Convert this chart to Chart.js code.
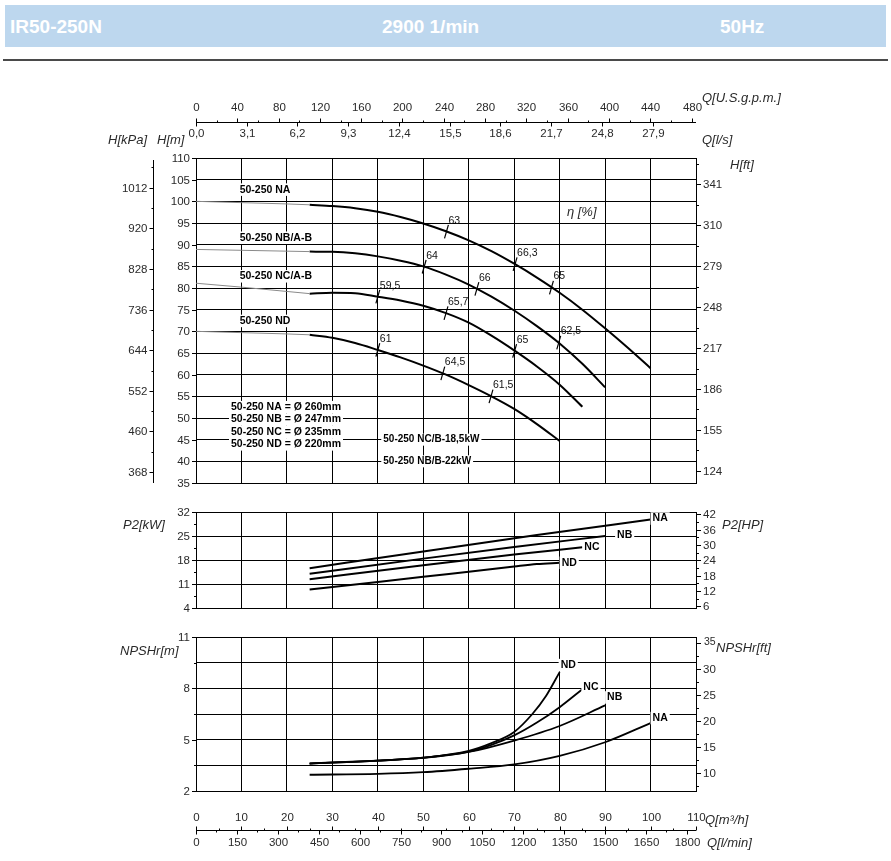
<!DOCTYPE html>
<html><head><meta charset="utf-8">
<script src="https://cdn.jsdelivr.net/npm/chart.js@4.4.1/dist/chart.umd.min.js"></script>
<style>
html,body{margin:0;padding:0;background:#fff;width:891px;height:861px;overflow:hidden;}
#hdr{position:absolute;left:5px;top:5px;width:881px;height:42px;background:#bdd7ee;}
#hdr span{position:absolute;top:0;color:#fff;font:bold 19px/43px "Liberation Sans",Arial,sans-serif;}
#rule{position:absolute;left:3px;top:59px;width:885px;height:2px;background:#4a4a4a;}
canvas{position:absolute;left:0;top:0;}
</style></head><body>
<div id="hdr"><span style="left:5px">IR50-250N</span><span style="left:377px">2900 1/min</span><span style="left:715px">50Hz</span></div>
<div id="rule"></div>
<canvas id="cH" width="891" height="861"></canvas>
<canvas id="cP" width="891" height="861"></canvas>
<canvas id="cN" width="891" height="861"></canvas>
<script>
// ---------- DATA (Q in m3/h) ----------
const qThin   = [0, 10, 20, 25];
const hThinNA = [100.0, 99.7, 99.4, 99.2];
const hThinNB = [88.9, 88.7, 88.5, 88.4];
const hThinNC = [81.1, 80.2, 79.2, 78.7];
const hThinND = [70.0, 69.7, 69.4, 69.2];

const qNA = [25, 30, 35, 40, 45, 50, 55, 60, 65, 70, 75, 80, 85, 90, 95, 100];
const hNA = [99.2, 98.9, 98.4, 97.6, 96.4, 94.9, 93.1, 91.0, 88.5, 85.6, 82.4, 78.9, 75.0, 70.7, 66.2, 61.5];
const qNB = [25, 30, 35, 40, 45, 50, 55, 60, 65, 70, 75, 80, 85, 90];
const hNB = [88.4, 88.35, 88.0, 87.3, 86.3, 85.0, 83.1, 80.8, 78.0, 74.8, 71.2, 67.2, 62.5, 57.1];
const qNC = [25, 30, 35, 40, 45, 50, 55, 60, 65, 70, 75, 80, 85];
const hNC = [78.7, 78.9, 78.8, 78.0, 77.1, 75.9, 74.2, 72.0, 69.0, 65.6, 61.9, 57.7, 52.6];
const qND = [25, 30, 35, 40, 45, 50, 55, 60, 65, 70, 75, 80];
const hND = [69.2, 68.5, 67.3, 65.7, 64.0, 62.1, 60.0, 57.6, 55.0, 52.1, 48.6, 44.7];

const effQ_NA = [55.1, 70.2, 78.2]; const effH_NA = [93.0, 85.5, 80.1]; const effL_NA = ['63', '66,3', '65'];
const effQ_NB = [50.2, 61.8, 79.8]; const effH_NB = [84.9, 79.8, 67.4]; const effL_NB = ['64', '66', '62,5'];
const effQ_NC = [40.0, 55.0, 70.1]; const effH_NC = [78.0, 74.2, 65.5]; const effL_NC = ['59,5', '65,7', '65'];
const effQ_ND = [40.0, 54.3, 64.9]; const effH_ND = [65.7, 60.3, 55.0]; const effL_ND = ['61', '64,5', '61,5'];

const p2Q_NA = [25, 50, 75, 100];          const p2NA = [15.6, 20.5, 25.3, 29.8];
const p2Q_NB = [25, 50, 70, 90];           const p2NB = [14.0, 18.4, 21.8, 25.0];
const p2Q_NC = [25, 50, 70, 85];           const p2NC = [12.4, 16.5, 19.6, 21.7];
const p2Q_ND = [25, 40, 50, 60, 70, 75, 80]; const p2ND = [9.4, 11.6, 13.1, 14.6, 16.1, 16.8, 17.2];

const npQ_NA = [25, 40, 50, 60, 70, 80, 90, 100];     const npNA = [2.95, 3.0, 3.1, 3.3, 3.55, 4.05, 4.85, 5.97];
const npQ_NB = [25, 40, 50, 60, 70, 80, 90];          const npNB = [3.62, 3.78, 3.93, 4.28, 4.95, 5.8, 7.0];
const npQ_NC = [25, 40, 50, 60, 65, 70, 75, 80, 85];  const npNC = [3.6, 3.77, 3.95, 4.3, 4.7, 5.25, 6.0, 6.9, 7.95];
const npQ_ND = [25, 40, 50, 60, 65, 70, 74, 77, 80];  const npND = [3.6, 3.77, 3.95, 4.35, 4.8, 5.45, 6.5, 7.55, 8.95];

// tick labels
const kPaLabels  = [368, 460, 552, 644, 736, 828, 920, 1012];
const ftLabels   = [124, 155, 186, 217, 248, 279, 310, 341];
const gpmLabels  = [0, 40, 80, 120, 160, 200, 240, 280, 320, 360, 400, 440, 480];
const lsLabels   = ['0,0', '3,1', '6,2', '9,3', '12,4', '15,5', '18,6', '21,7', '24,8', '27,9'];
const hpLabels   = [6, 12, 18, 24, 30, 36, 42];
const npFtLabels = [10, 15, 20, 25, 30, 35];
const m3hLabels  = [0, 10, 20, 30, 40, 50, 60, 70, 80, 90, 100, 110];
const lminLabels = [0, 150, 300, 450, 600, 750, 900, 1050, 1200, 1350, 1500, 1650, 1800];
const curveNames = ['NA', 'NB', 'NC', 'ND'];
const diamLegend = ['50-250 NA = Ø 260mm', '50-250 NB = Ø 247mm', '50-250 NC = Ø 235mm', '50-250 ND = Ø 220mm'];

// unit conversions to chart units (m, kW, m3/h)
const KPA_M = 1 / 9.81, FT_M = 0.3048, GPM_M3H = 0.22712, LS_M3H = 3.6, LMIN_M3H = 0.06, HP_KW = 0.7457;

// ---------- helpers ----------
const FONT = '"Liberation Sans", Arial, sans-serif';
const TXT = '#2a2a2a';
function put(ctx, s, x, y, o = {}) {
  const size = o.size || 11.5;
  ctx.font = (o.italic ? 'italic ' : '') + (o.bold ? 'bold ' : '') + size + 'px ' + FONT;
  ctx.textAlign = o.align || 'left';
  ctx.textBaseline = 'middle';
  if (o.bg) {
    const w = ctx.measureText(s).width;
    const x0 = o.align === 'center' ? x - w / 2 : o.align === 'right' ? x - w : x;
    ctx.fillStyle = '#fff';
    ctx.fillRect(x0 - 2, y - size / 2 - 1, w + 4, size + 2);
  }
  ctx.fillStyle = o.color || TXT;
  ctx.fillText(s, x, y);
}
function seg(ctx, x1, y1, x2, y2, w = 1, c = '#000') {
  ctx.beginPath(); ctx.lineWidth = w; ctx.strokeStyle = c;
  ctx.moveTo(x1, y1); ctx.lineTo(x2, y2); ctx.stroke();
}
const R = v => Math.round(v) + 0.5;
function pts(qs, vs) { return qs.map((q, i) => ({ x: q, y: vs[i] })); }
function thin(qs, vs) { return { data: pts(qs, vs), borderColor: '#8a8a8a', borderWidth: 1, pointRadius: 0, cubicInterpolationMode: 'monotone', fill: false }; }
function thick(qs, vs, w) { return { data: pts(qs, vs), borderColor: '#000', borderWidth: w || 2, pointRadius: 0, cubicInterpolationMode: 'monotone', fill: false }; }
function marks(qs, vs) { return { data: pts(qs, vs), showLine: false, pointStyle: 'line', pointRadius: 7, pointRotation: -74, pointBorderWidth: 1.2, pointBorderColor: '#000', pointBackgroundColor: '#000' }; }

function opts(pad, ymin, ymax, ystep) {
  const grid = { color: '#000', lineWidth: 1, drawTicks: false };
  return {
    responsive: false, animation: false, devicePixelRatio: 1,
    layout: { padding: pad },
    plugins: { legend: { display: false }, tooltip: { enabled: false } },
    events: [],
    scales: {
      x: { type: 'linear', min: 0, max: 110, ticks: { display: false, stepSize: 10 }, grid, border: { display: true, color: '#000' }, afterFit(s) { s.height = 0; } },
      y: { type: 'linear', min: ymin, max: ymax, ticks: { display: false, stepSize: ystep }, grid, border: { display: true, color: '#000' }, afterFit(s) { s.width = 0; } }
    }
  };
}

// ---------- H chart ----------
const hPlugin = {
  id: 'hAxes',
  afterDraw(chart) {
    const { ctx, chartArea: a, scales: { x, y } } = chart;
    ctx.save();
    y.ticks.forEach(t => {
      const py = R(y.getPixelForValue(t.value));
      seg(ctx, a.left - 4, py, a.left, py);
      put(ctx, String(t.value), a.left - 6, py, { align: 'right' });
    });
    const kx = 153.5;
    seg(ctx, kx, a.top + 2, kx, a.bottom);
    kPaLabels.forEach(v => {
      const py = R(y.getPixelForValue(v * KPA_M));
      seg(ctx, kx - 4, py, kx, py);
      put(ctx, String(v), kx - 6, py, { align: 'right' });
    });
    for (let v = kPaLabels[0] - 46; v < 1100; v += 92) {
      const m = v * KPA_M; if (m < y.min || m > y.max) continue;
      const py = R(y.getPixelForValue(m)); seg(ctx, kx - 2, py, kx, py);
    }
    ftLabels.forEach(v => {
      const py = R(y.getPixelForValue(v * FT_M));
      seg(ctx, a.right, py, a.right + 5, py);
      put(ctx, String(v), a.right + 7, py);
    });
    for (let v = ftLabels[0] - 15.5; v < 370; v += 31) {
      const m = v * FT_M; if (m < y.min || m > y.max) continue;
      const py = R(y.getPixelForValue(m)); seg(ctx, a.right, py, a.right + 3, py);
    }
    const ty = 122.5;
    seg(ctx, a.left, ty, a.right, ty);
    gpmLabels.forEach(v => {
      const px = R(x.getPixelForValue(v * GPM_M3H));
      seg(ctx, px, ty - 4, px, ty);
      put(ctx, String(v), px, 108, { align: 'center' });
    });
    for (let v = 20; v < 480; v += 40) { const px = R(x.getPixelForValue(v * GPM_M3H)); seg(ctx, px, ty - 2, px, ty); }
    lsLabels.forEach((s, i) => {
      const px = R(x.getPixelForValue(i * 3.1 * LS_M3H));
      seg(ctx, px, ty, px, ty + 4);
      put(ctx, s, px, 134, { align: 'center' });
    });
    put(ctx, 'Q[U.S.g.p.m.]', 702, 98, { italic: true, size: 13 });
    put(ctx, 'Q[l/s]', 702, 140, { italic: true, size: 13 });
    put(ctx, 'H[kPa]', 108, 140, { italic: true, size: 13 });
    put(ctx, 'H[m]', 157, 140, { italic: true, size: 13 });
    put(ctx, 'H[ft]', 730, 165, { italic: true, size: 13 });
    put(ctx, 'η [%]', x.getPixelForValue(81.6), y.getPixelForValue(97.4), { italic: true, size: 13 });
    const lx = x.getPixelForValue(9.6);
    put(ctx, '50-250 NA', lx, y.getPixelForValue(102.7), { bold: true, size: 10.5, bg: true, color: '#000' });
    put(ctx, '50-250 NB/A-B', lx, y.getPixelForValue(91.6), { bold: true, size: 10.5, bg: true, color: '#000' });
    put(ctx, '50-250 NC/A-B', lx, y.getPixelForValue(82.7), { bold: true, size: 10.5, bg: true, color: '#000' });
    put(ctx, '50-250 ND', lx, y.getPixelForValue(72.4), { bold: true, size: 10.5, bg: true, color: '#000' });
    const cx = x.getPixelForValue(19.8);
    diamLegend.forEach((s, i) => put(ctx, s, cx, y.getPixelForValue(52.5) + i * 12.4, { bold: true, size: 10.5, bg: true, color: '#000', align: 'center' }));
    const mx = x.getPixelForValue(41.2);
    put(ctx, '50-250 NC/B-18,5kW', mx, y.getPixelForValue(45), { bold: true, size: 10, bg: true, color: '#000' });
    put(ctx, '50-250 NB/B-22kW', mx, y.getPixelForValue(40), { bold: true, size: 10, bg: true, color: '#000' });
    [[effQ_NA, effH_NA, effL_NA], [effQ_NB, effH_NB, effL_NB], [effQ_NC, effH_NC, effL_NC], [effQ_ND, effH_ND, effL_ND]].forEach(([qs, hs, ls]) => {
      qs.forEach((q, i) => put(ctx, ls[i], x.getPixelForValue(q) + 2, y.getPixelForValue(hs[i]) - 11, { size: 10.5, color: '#111' }));
    });
    ctx.restore();
  }
};
new Chart(document.getElementById('cH'), {
  type: 'line',
  data: { datasets: [
    thin(qThin, hThinNA), thin(qThin, hThinNB), thin(qThin, hThinNC), thin(qThin, hThinND),
    thick(qNA, hNA), thick(qNB, hNB), thick(qNC, hNC), thick(qND, hND),
    marks(effQ_NA, effH_NA), marks(effQ_NB, effH_NB), marks(effQ_NC, effH_NC), marks(effQ_ND, effH_ND)
  ] },
  options: opts({ left: 196, right: 195, top: 158, bottom: 378 }, 35, 110, 5),
  plugins: [hPlugin]
});

// ---------- P2 chart ----------
const pPlugin = {
  id: 'pAxes',
  afterDraw(chart) {
    const { ctx, chartArea: a, scales: { x, y } } = chart;
    ctx.save();
    y.ticks.forEach(t => {
      const py = R(y.getPixelForValue(t.value));
      seg(ctx, a.left - 4, py, a.left, py);
      put(ctx, String(t.value), a.left - 6, py, { align: 'right' });
      const m = t.value + 3.5;
      if (m < y.max) { const pm = R(y.getPixelForValue(m)); seg(ctx, a.left - 2, pm, a.left, pm); }
    });
    hpLabels.forEach(v => {
      const py = R(y.getPixelForValue(v * HP_KW));
      seg(ctx, a.right, py, a.right + 5, py);
      put(ctx, String(v), a.right + 7, py);
      const m = (v + 3) * HP_KW;
      if (m < y.max) { const pm = R(y.getPixelForValue(m)); seg(ctx, a.right, pm, a.right + 3, pm); }
    });
    put(ctx, 'P2[kW]', 123, 525, { italic: true, size: 13 });
    put(ctx, 'P2[HP]', 722, 525, { italic: true, size: 13 });
    const ends = [[p2Q_NA, p2NA, 2, -1], [p2Q_NB, p2NB, 12, -1], [p2Q_NC, p2NC, 2, 0], [p2Q_ND, p2ND, 2, 0]];
    ends.forEach(([qs, vs, dx, dy], i) => {
      const n = qs.length - 1;
      put(ctx, curveNames[i], x.getPixelForValue(qs[n]) + dx, y.getPixelForValue(vs[n]) + dy, { bold: true, size: 10.5, bg: true, color: '#000' });
    });
    ctx.restore();
  }
};
new Chart(document.getElementById('cP'), {
  type: 'line',
  data: { datasets: [thick(p2Q_NA, p2NA), thick(p2Q_NB, p2NB), thick(p2Q_NC, p2NC), thick(p2Q_ND, p2ND)] },
  options: opts({ left: 196, right: 195, top: 512, bottom: 253 }, 4, 32, 7),
  plugins: [pPlugin]
});

// ---------- NPSH chart ----------
const nPlugin = {
  id: 'nAxes',
  afterDraw(chart) {
    const { ctx, chartArea: a, scales: { x, y } } = chart;
    ctx.save();
    y.ticks.forEach(t => {
      const py = R(y.getPixelForValue(t.value));
      const major = Math.abs(((t.value - 2) / 3) - Math.round((t.value - 2) / 3)) < 1e-6;
      seg(ctx, a.left - (major ? 4 : 2), py, a.left, py);
      if (major) put(ctx, String(Math.round(t.value)), a.left - 6, py, { align: 'right' });
    });
    npFtLabels.forEach(v => {
      const py = R(y.getPixelForValue(v * FT_M));
      seg(ctx, a.right, py, a.right + 5, py);
      if (v !== 35) put(ctx, String(v), a.right + 7, py);
      const m = (v - 2.5) * FT_M;
      if (m > y.min) { const pm = R(y.getPixelForValue(m)); seg(ctx, a.right, pm, a.right + 3, pm); }
    });
    put(ctx, '35', a.right + 8, y.getPixelForValue(35 * FT_M) - 1, { size: 10.5 });
    put(ctx, 'NPSHr[ft]', 716, 648, { italic: true, size: 13 });
    put(ctx, 'NPSHr[m]', 120, 651, { italic: true, size: 13 });
    const ends = [[npQ_NA, npNA, 2, -5], [npQ_NB, npNB, 2, -8], [npQ_NC, npNC, 1, -2], [npQ_ND, npND, 1, -7]];
    ends.forEach(([qs, vs, dx, dy], i) => {
      const n = qs.length - 1;
      put(ctx, curveNames[i], x.getPixelForValue(qs[n]) + dx, y.getPixelForValue(vs[n]) + dy, { bold: true, size: 10.5, bg: true, color: '#000' });
    });
    const by = 830.5;
    seg(ctx, a.left, by, a.right, by);
    m3hLabels.forEach(v => {
      const px = R(x.getPixelForValue(v));
      seg(ctx, px, by - 4, px, by);
      put(ctx, String(v), px, 818, { align: 'center' });
      if (v + 5 < 110) { const pm = R(x.getPixelForValue(v + 5)); seg(ctx, pm, by - 2, pm, by); }
    });
    lminLabels.forEach(v => {
      const px = R(x.getPixelForValue(v * LMIN_M3H));
      seg(ctx, px, by, px, by + 4);
      put(ctx, String(v), px, 843, { align: 'center' });
      if (v + 75 < 1830) { const pm = R(x.getPixelForValue((v + 75) * LMIN_M3H)); seg(ctx, pm, by, pm, by + 2); }
    });
    put(ctx, 'Q[m³/h]', 705, 820, { italic: true, size: 13 });
    put(ctx, 'Q[l/min]', 707, 843, { italic: true, size: 13 });
    ctx.restore();
  }
};
new Chart(document.getElementById('cN'), {
  type: 'line',
  data: { datasets: [thick(npQ_NA, npNA, 1.8), thick(npQ_NB, npNB, 1.8), thick(npQ_NC, npNC, 1.8), thick(npQ_ND, npND, 1.8)] },
  options: opts({ left: 196, right: 195, top: 637, bottom: 70 }, 2, 11, 1.5),
  plugins: [nPlugin]
});
</script>
</body></html>
